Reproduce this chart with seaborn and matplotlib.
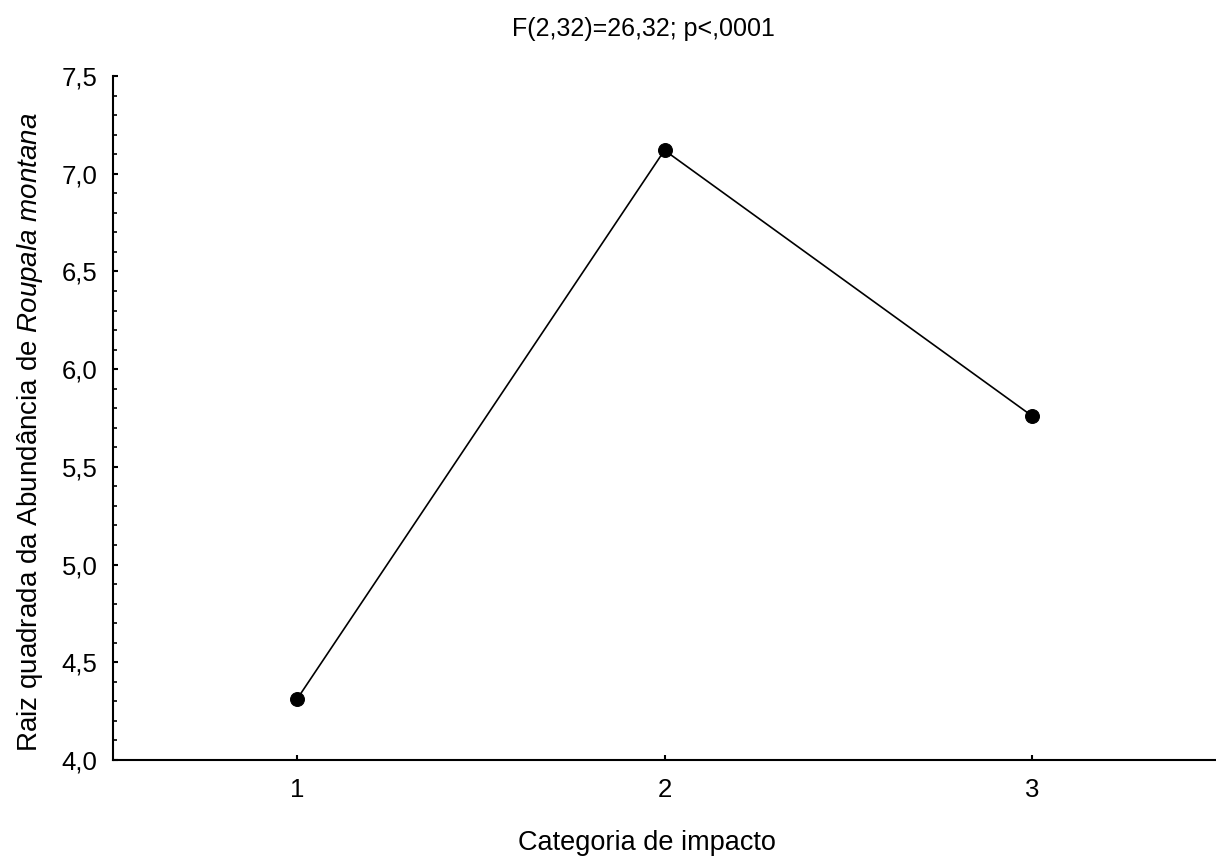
import matplotlib
matplotlib.use('Agg')
import matplotlib.pyplot as plt
import seaborn as sns
import pandas as pd
from matplotlib.ticker import MultipleLocator, FuncFormatter

# Data
categorias = [1, 2, 3]
raiz_abund = [4.31, 7.12, 5.76]

df = pd.DataFrame({'Categoria': categorias, 'Valor': raiz_abund})

sns.set_style('ticks')
plt.rcParams['font.family'] = ['Liberation Sans', 'DejaVu Sans']
plt.rcParams['mathtext.fontset'] = 'custom'
plt.rcParams['mathtext.rm'] = 'Liberation Sans'
plt.rcParams['mathtext.it'] = 'Liberation Sans:italic'
plt.rcParams['text.color'] = 'black'
plt.rcParams['axes.labelcolor'] = 'black'

fig = plt.figure(figsize=(12.16, 8.59), dpi=100)
ax = fig.add_axes([113 / 1216, 1 - 760 / 859, (1216 - 113) / 1216, (760 - 76) / 859])

sns.lineplot(data=df, x='Categoria', y='Valor', ax=ax, color='black', linewidth=1.2,
             marker='o', markersize=10, markeredgecolor='black', markerfacecolor='black')

ax.set_xlim(0.5, 3.5)
ax.set_ylim(4.0, 7.5)
ax.set_xticks(categorias)
ax.yaxis.set_major_locator(MultipleLocator(0.5))
ax.yaxis.set_minor_locator(MultipleLocator(0.1))
comma = FuncFormatter(lambda v, p: f'{v:.1f}'.replace('.', ','))
ax.yaxis.set_major_formatter(comma)

sns.despine(ax=ax)
for s in ['left', 'bottom']:
    ax.spines[s].set_linewidth(1.5)
    ax.spines[s].set_color('black')

ax.tick_params(axis='both', which='major', direction='in', length=3.5, width=1.5,
               labelsize=18.5, colors='black')
ax.tick_params(axis='y', which='major', pad=11)
ax.tick_params(axis='x', which='major', pad=13)
ax.tick_params(axis='y', which='minor', direction='in', length=3, width=1.2, colors='black')

ax.set_xlabel('Categoria de impacto', fontsize=19.5)
ax.xaxis.set_label_coords(0.484, -0.103)
ax.set_ylabel('Raiz quadrada da Abundância de $\\it{Roupala\\ montana}$', fontsize=20, labelpad=12)
ax.yaxis.label.set_y(0.4795)
ax.set_title('F(2,32)=26,32; p<,0001', fontsize=18, pad=29, x=0.481)

fig.savefig('out.png', dpi=100)
